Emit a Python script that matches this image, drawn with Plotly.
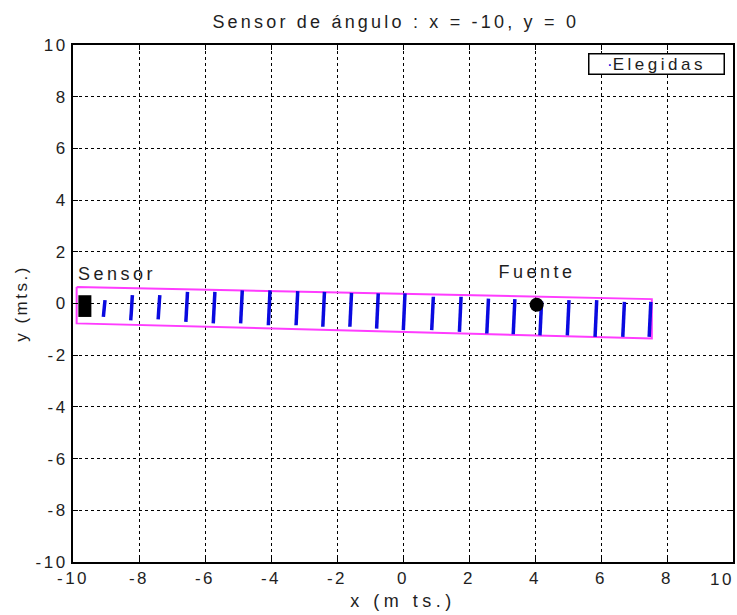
import plotly.graph_objects as go

# ---- data ----
seg_x = [-9.08, -8.25, -7.42, -6.58, -5.75, -4.92, -4.08, -3.24, -2.43, -1.61, -0.80,
         0.01, 0.87, 1.71, 2.54, 3.34, 4.15, 4.98, 5.82, 6.66, 7.46]
seg_top = [0.13, 0.32, 0.32, 0.45, 0.45, 0.51, 0.51, 0.48, 0.45, 0.41, 0.39,
           0.39, 0.26, 0.26, 0.19, 0.17, 0.08, 0.13, 0.13, 0.06, 0.06]
seg_bot = [-0.52, -0.65, -0.61, -0.71, -0.77, -0.77, -0.84, -0.84, -0.90, -0.90, -0.97,
           -1.03, -1.03, -1.10, -1.16, -1.19, -1.23, -1.23, -1.29, -1.29, -1.29]
seg_tilt = 0.05

band_x = [-9.89, 7.54, 7.54, -9.89, -9.89]
band_y = [0.64, 0.17, -1.35, -0.77, 0.64]

sensor_x = [-9.64, -9.64]
sensor_y = [0.32, -0.52]

fuente_x = [4.05]
fuente_y = [-0.05]

labels = ["Sensor", "Fuente"]
label_x = [-9.85, 4.06]
label_y = [1.1, 1.17]

x_ticks = [-10, -8, -6, -4, -2, 0, 2, 4, 6, 8, 10]
y_ticks = [-10, -8, -6, -4, -2, 0, 2, 4, 6, 8, 10]
tick_labels = ["-10", "-8", "-6", "-4", "-2", "0", "2", "4", "6", "8", "10"]

title_text = "Sensor de ángulo : x = -10, y = 0"
xlabel = "x (m ts.)"
ylabel = "y (mts.)"
legend_name = "Elegidas"

FONT = "Liberation Sans, Arial, sans-serif"
TXT = "#1e1e1e"
BLUE = "#0a0ae0"


def spaced(s, px):
    return f"<span style='letter-spacing:{px}px'>{s}</span>"


lx, ly = [], []
for x, t, b in zip(seg_x, seg_top, seg_bot):
    lx += [x, x + seg_tilt, None]
    ly += [b, t, None]

fig = go.Figure()
fig.add_trace(go.Scatter(x=band_x, y=band_y, mode="lines",
                         line=dict(color="#ff3cff", width=2), showlegend=False,
                         hoverinfo="skip"))
fig.add_trace(go.Scatter(x=lx, y=ly, mode="lines", name=legend_name,
                         line=dict(color=BLUE, width=3.5), showlegend=False))
fig.add_trace(go.Scatter(x=sensor_x, y=sensor_y, mode="lines",
                         line=dict(color="black", width=13), showlegend=False))
fig.add_trace(go.Scatter(x=fuente_x, y=fuente_y, mode="markers",
                         marker=dict(color="black", size=14), showlegend=False))
fig.add_trace(go.Scatter(x=label_x, y=label_y, mode="text",
                         text=[spaced(t, 3.5) for t in labels],
                         textposition=["middle right", "middle center"],
                         textfont=dict(family=FONT, size=18, color=TXT),
                         showlegend=False))

axis_common = dict(
    showgrid=True, gridcolor="black", griddash="dot", gridwidth=1,
    zeroline=False, showline=True, linecolor="black", linewidth=2,
    mirror="ticks", ticks="inside", ticklen=5, tickcolor="black",
    tickfont=dict(family=FONT, size=17, color=TXT), automargin=False,
)

# the last x tick label sits at the right edge; it is drawn as an annotation
x_ticktext = [spaced(t, 2.5) for t in tick_labels[:-1]] + [""]

fig.update_xaxes(range=[-10, 10], tickvals=x_ticks, ticktext=x_ticktext,
                 title=dict(text=spaced(xlabel, 4.5), standoff=7,
                            font=dict(family=FONT, size=18, color=TXT)), **axis_common)
fig.update_yaxes(range=[-10, 10], tickvals=y_ticks,
                 ticktext=[spaced(t, 2.5) for t in tick_labels],
                 title=dict(text=spaced(ylabel, 2.5), standoff=4,
                            font=dict(family=FONT, size=17, color=TXT)), **axis_common)

fig.update_layout(
    width=737, height=615,
    margin=dict(l=73, r=4, t=45, b=53),
    paper_bgcolor="white", plot_bgcolor="white",
    title=dict(text=spaced(title_text, 3.2), x=0.537, xanchor="center", y=0.964,
               yanchor="middle", font=dict(family=FONT, size=18, color=TXT)),
    showlegend=False,
    annotations=[
        dict(xref="paper", yref="paper", x=0.988, y=0.985, xanchor="right", yanchor="top",
             text=f"<span style='color:{BLUE}'>·</span>{spaced(legend_name, 3.5)}",
             showarrow=False,
             font=dict(family=FONT, size=17, color=TXT), width=134, align="center",
             bgcolor="white", bordercolor="black", borderwidth=1.5, borderpad=0),
        dict(xref="x", yref="paper", x=x_ticks[-1], y=0, xanchor="right", yanchor="top",
             xshift=3, yshift=-6, text=spaced(tick_labels[-1], 2.5), showarrow=False,
             font=dict(family=FONT, size=17, color=TXT)),
    ],
)

fig.write_html("out.html")
